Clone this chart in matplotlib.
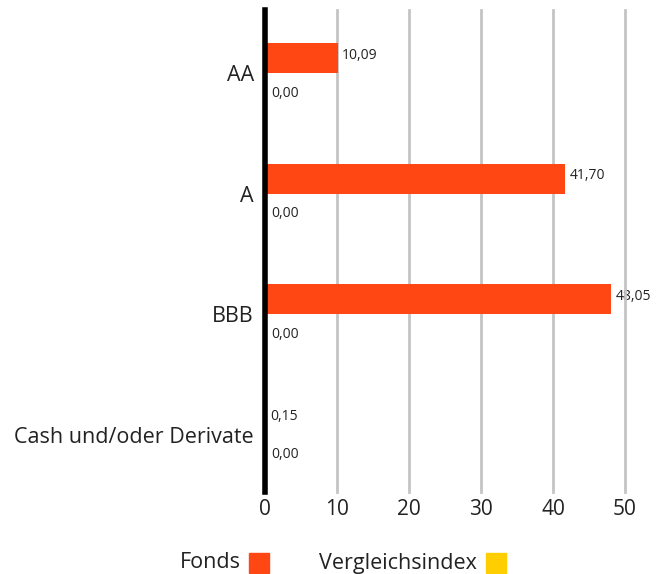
import numpy as np
import matplotlib
matplotlib.use("Agg")
import matplotlib.pyplot as plt
from matplotlib.patches import Rectangle

plt.rcParams['font.family'] = ['Open Sans', 'DejaVu Sans']

# Daten
categories = ["AA", "A", "BBB", "Cash und/oder Derivate"]
fonds = [10.09, 41.70, 48.05, 0.15]
index_vals = [0.00, 0.00, 0.00, 0.00]
xticks = [0, 10, 20, 30, 40, 50]

c_fonds = "#FF4713"
c_index = "#FFCE00"
c_text = "#222222"

W, H = 669, 574
fig = plt.figure(figsize=(W / 100, H / 100), dpi=100)
ax = fig.add_axes([265 / W, 82 / H, 360 / W, 482 / H])

y = np.arange(len(categories))
h = 0.25
ax.barh(y - h / 2, fonds, height=h, color=c_fonds, zorder=3)
ax.barh(y + h / 2, index_vals, height=h, color=c_index, zorder=3)

def fmt(v):
    return f"{v:.2f}".replace(".", ",")

# Wertbeschriftungen
for yi, v in zip(y, fonds):
    ax.text(v + 0.6, yi - h / 2 - 0.025, fmt(v), va="center", ha="left",
            fontsize=10, color=c_text, clip_on=False, zorder=0.5)
for yi, v in zip(y, index_vals):
    ax.text(v + 0.8, yi + h / 2 + 0.04, fmt(v), va="center", ha="left",
            fontsize=10, color=c_text, clip_on=False, zorder=0.5)

ax.set_xlim(0, 50)
ax.set_ylim(3.475, -0.525)
ax.set_xticks(xticks)
ax.set_xticklabels([str(t) for t in xticks], fontsize=15, color=c_text)
ax.set_yticks(y)
ax.set_yticklabels(categories, fontsize=15.5, color=c_text)
ax.tick_params(axis="x", length=0, pad=5)
ax.tick_params(axis="y", length=0, pad=8)

for t in xticks[1:]:
    ax.axvline(t, color="#c4c4c4", linewidth=2, zorder=1, clip_on=False)
ax.axvline(0, color="black", linewidth=4, zorder=4, clip_on=False)

for s in ax.spines.values():
    s.set_visible(False)

# Legende
leg_y = (H - 563) / H
sq_y = (H - 573) / H
fig.text(180 / W, leg_y, "Fonds", fontsize=15.5, color=c_text,
         ha="left", va="center")
fig.patches.append(Rectangle((249 / W, sq_y), 20 / W, 20 / H,
                             transform=fig.transFigure, color=c_fonds))
fig.text(319 / W, leg_y, "Vergleichsindex", fontsize=15.5, color=c_text,
         ha="left", va="center")
fig.patches.append(Rectangle((486 / W, sq_y), 20 / W, 20 / H,
                             transform=fig.transFigure, color=c_index))

fig.savefig("out.png", dpi=100)
